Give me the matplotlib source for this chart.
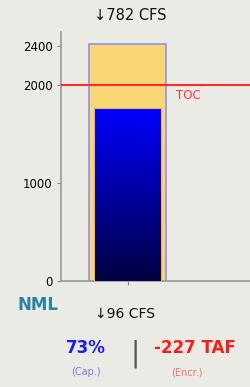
import numpy as np
import matplotlib
matplotlib.use("Agg")
import matplotlib.pyplot as plt
from matplotlib.colors import LinearSegmentedColormap

# data
station = "NML"
capacity = 2420
storage = 1766
toc = 2000
yticks = [0, 1000, 2000, 2400]
outflow_top = "782 CFS"
outflow_bottom = "96 CFS"
pct_cap = "73%"
encr = "-227 TAF"

bg = "#ebebe5"
fig = plt.figure(figsize=(2.51, 3.87), dpi=100, facecolor=bg)
ax = fig.add_axes([0.243, 0.274, 0.757, 0.643], facecolor=bg)

ax.bar(0, capacity, width=0.8, color="#f7d673", edgecolor="#9090ee", linewidth=1.2, zorder=2)
bar = ax.bar(0, storage, width=0.686, color="none", edgecolor="#e8b060", linewidth=0.8, zorder=4)[0]

# gradient fill for storage bar
cmap = LinearSegmentedColormap.from_list("st", ["#000040", "#0000ff"])
grad = np.linspace(0, 1, 256).reshape(-1, 1)
im = ax.imshow(grad, cmap=cmap, origin="lower", aspect="auto",
               extent=[-0.343, 0.343, 0, storage], zorder=3)
im.set_clip_path(bar)

ax.axhline(toc, color="#ff2a2a", linewidth=1.5, zorder=5)
ax.text(0.5, toc - 45, "TOC", color="#ff3838", fontsize=8.5, va="top", ha="left")

ax.set_xlim(-0.69, 1.28)
ax.set_ylim(0, 2540)
ax.set_yticks(yticks)
ax.set_yticklabels([str(v) for v in yticks], fontsize=8.5)
ax.set_xticks([0])
ax.set_xticklabels([""])
ax.tick_params(axis="both", length=3, color="#888888", pad=3)
for s in ["top", "right"]:
    ax.spines[s].set_visible(False)
for s in ["left", "bottom"]:
    ax.spines[s].set_color("#999999")
    ax.spines[s].set_linewidth(1.2)

fig.text(0.52, 0.961, "\u2193" + outflow_top, ha="center", va="center", fontsize=10.5, color="#111111")
fig.text(0.15, 0.212, station, ha="center", va="center", fontsize=12, weight="bold", color="#2a84a8")
fig.text(0.5, 0.19, "\u2193" + outflow_bottom, ha="center", va="center", fontsize=10, color="#111111")
fig.text(0.343, 0.100, pct_cap, ha="center", va="center", fontsize=12, weight="bold", color="#1a1aff")
fig.text(0.343, 0.038, "(Cap.)", ha="center", va="center", fontsize=7, color="#7a7af0")
fig.text(0.538, 0.085, "|", ha="center", va="center", fontsize=20, color="#555555")
fig.text(0.777, 0.100, encr, ha="center", va="center", fontsize=12, weight="bold", color="#ff1a1a")
fig.text(0.745, 0.038, "(Encr.)", ha="center", va="center", fontsize=7, color="#f07070")

fig.savefig("out.png", dpi=100, facecolor=bg)
